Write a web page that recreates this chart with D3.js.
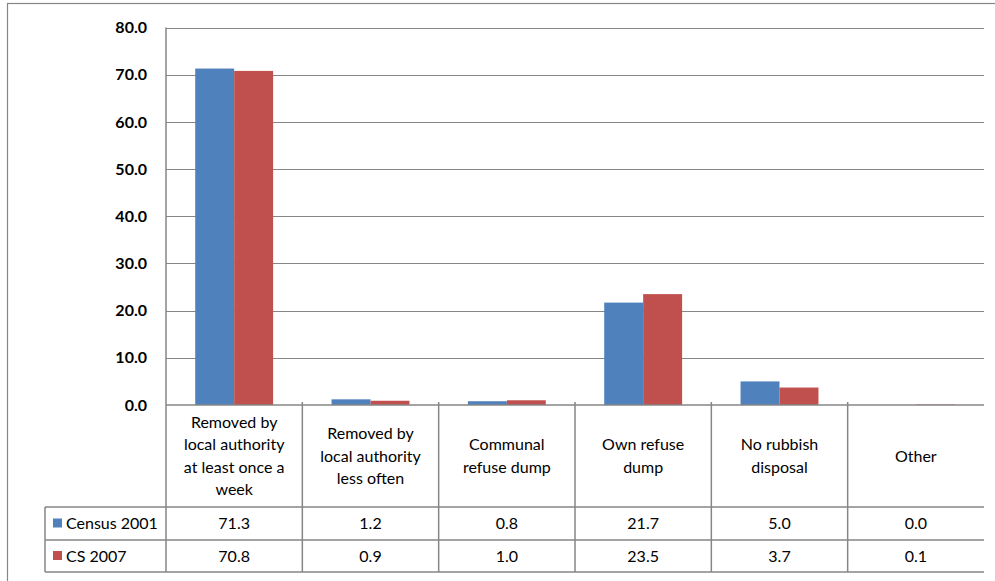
<!DOCTYPE html>
<html>
<head>
<meta charset="utf-8">
<script src="https://cdn.jsdelivr.net/npm/d3@7"></script>
<style>
  html, body { margin: 0; padding: 0; background: #fff; }
  svg { display: block; font-family: Lato, "Open Sans", sans-serif; }
</style>
</head>
<body>
<svg id="chart" width="995" height="581"></svg>
<script>
// Refuse removal by household, percentage of households
const categories = [
  ["Removed by", "local authority", "at least once a", "week"],
  ["Removed by", "local authority", "less often"],
  ["Communal", "refuse dump"],
  ["Own refuse", "dump"],
  ["No rubbish", "disposal"],
  ["Other"]
];
const seriesNames = ["Census 2001", "CS 2007"];
const census2001 = [71.3, 1.2, 0.8, 21.7, 5.0, 0.0];
const cs2007 = [70.8, 0.9, 1.0, 23.5, 3.7, 0.1];
const yTicks = [0, 10, 20, 30, 40, 50, 60, 70, 80];
const colors = ["#4F81BD", "#C0504D"];

const series = [census2001, cs2007];
const svg = d3.select("#chart");

const plot = { left: 166, right: 984, top: 27.5, bottom: 405 };
const table = { legendLeft: 45, headerBottom: 507, row1Bottom: 540, row2Bottom: 572 };
const lineColor = "#868686";

// Outer chart frame (extends past the visible area on the right and bottom)
svg.append("rect")
  .attr("x", 7.5).attr("y", 3.5)
  .attr("width", 1100).attr("height", 700)
  .attr("fill", "none").attr("stroke", lineColor).attr("stroke-width", 1.2);

const y = d3.scaleLinear().domain([0, 80]).range([plot.bottom, plot.top]);
const idx = d3.range(categories.length);
const x = d3.scaleBand().domain(idx).range([plot.left, plot.right]).paddingInner(0).paddingOuter(0);

// Gridlines
svg.append("g").selectAll("line")
  .data(yTicks.filter(t => t > 0))
  .join("line")
  .attr("x1", plot.left).attr("x2", plot.right)
  .attr("y1", d => Math.round(y(d)) + 0.5).attr("y2", d => Math.round(y(d)) + 0.5)
  .attr("stroke", lineColor).attr("stroke-width", 1.2);

// Y tick labels
const yAxis = d3.axisLeft(y).tickValues(yTicks).tickFormat(d3.format(".1f")).tickSize(0).tickPadding(19);
const yg = svg.append("g").attr("transform", `translate(${plot.left},0)`).call(yAxis);
yg.select(".domain").remove();
yg.selectAll("text")
  .attr("font-family", "Lato, sans-serif")
  .attr("font-size", 16).attr("font-weight", "bold").attr("fill", "#000");

// Bars: gap width 150% of a bar
const bw = x.bandwidth() / 3.5;
idx.forEach(i => {
  series.forEach((s, k) => {
    svg.append("rect")
      .attr("x", x(i) + 0.75 * bw + k * bw)
      .attr("y", y(s[i]))
      .attr("width", bw)
      .attr("height", y(0) - y(s[i]))
      .attr("fill", colors[k]);
  });
});

// Data table lines
const g = svg.append("g").attr("stroke", lineColor).attr("stroke-width", 1.5);
g.append("line").attr("x1", plot.left).attr("x2", plot.right).attr("y1", plot.bottom).attr("y2", plot.bottom);
[table.headerBottom, table.row1Bottom, table.row2Bottom].forEach(yy => {
  g.append("line").attr("x1", table.legendLeft).attr("x2", plot.right).attr("y1", yy).attr("y2", yy);
});
g.append("line").attr("x1", table.legendLeft).attr("x2", table.legendLeft)
  .attr("y1", table.headerBottom).attr("y2", table.row2Bottom);
g.append("line").attr("x1", plot.left).attr("x2", plot.left)
  .attr("y1", plot.top).attr("y2", table.row2Bottom);
idx.slice(1).forEach(i => {
  g.append("line").attr("x1", x(i)).attr("x2", x(i))
    .attr("y1", plot.bottom - 3).attr("y2", table.row2Bottom);
});

// Category headers
const lineH = 22.3;
const headerMid = (plot.bottom + table.headerBottom) / 2;
idx.forEach(i => {
  const lines = categories[i];
  const t = svg.append("text")
    .attr("text-anchor", "middle")
    .attr("font-size", 16).attr("fill", "#000");
  lines.forEach((ln, j) => {
    t.append("tspan")
      .attr("x", x(i) + x.bandwidth() / 2)
      .attr("y", headerMid + (j - (lines.length - 1) / 2) * lineH)
      .attr("dy", "0.35em")
      .text(ln);
  });
});

// Table rows: legend key + values
const rowMids = [(table.headerBottom + table.row1Bottom) / 2, (table.row1Bottom + table.row2Bottom) / 2];
series.forEach((s, k) => {
  const ym = rowMids[k];
  svg.append("rect").attr("x", 53).attr("y", ym - 5).attr("width", 9).attr("height", 9).attr("fill", colors[k]);
  svg.append("text").attr("x", 66).attr("y", ym).attr("dy", "0.35em")
    .attr("font-size", 16).attr("fill", "#000").text(seriesNames[k]);
  svg.append("g").selectAll("text").data(s).join("text")
    .attr("x", (d, i) => x(i) + x.bandwidth() / 2)
    .attr("y", ym).attr("dy", "0.35em")
    .attr("text-anchor", "middle")
    .attr("font-size", 16).attr("fill", "#000")
    .text(d => d3.format(".1f")(d));
});
</script>
</body>
</html>
